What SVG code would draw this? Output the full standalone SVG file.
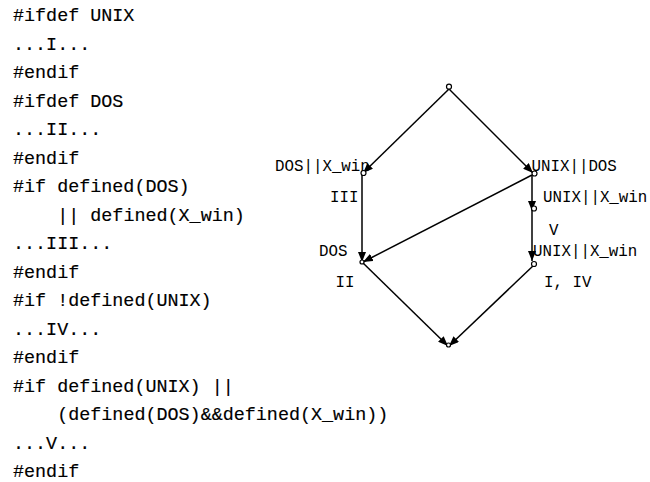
<svg xmlns="http://www.w3.org/2000/svg" width="650" height="482" viewBox="0 0 650 482">
<defs>
<marker id="ah" markerWidth="10" markerHeight="8" refX="10" refY="4" orient="auto" markerUnits="userSpaceOnUse">
<path d="M0,0 L10,4 L0,8 Z" fill="#000"/>
</marker>
<style>
.code{font-family:"Liberation Mono","DejaVu Sans Mono",monospace;font-size:18.4px;fill:#000;stroke:#000;stroke-width:0.15}
.lbl{font-family:"Liberation Mono","Courier New",monospace;font-size:15.8px;fill:#000}
.e{stroke:#000;stroke-width:1.5;fill:none;marker-end:url(#ah)}
.n{fill:#fff;stroke:#000;stroke-width:1.2}
</style>
</defs>
<rect width="650" height="482" fill="#fff"/>
<g id="code" class="code">
<text x="13" y="21">#ifdef UNIX</text>
<text x="13" y="49.5">...I...</text>
<text x="13" y="78">#endif</text>
<text x="13" y="106.5">#ifdef DOS</text>
<text x="13" y="135">...II...</text>
<text x="13" y="163.5">#endif</text>
<text x="13" y="192">#if defined(DOS)</text>
<text x="57.2" y="220.5">|| defined(X_win)</text>
<text x="13" y="249">...III...</text>
<text x="13" y="277.5">#endif</text>
<text x="13" y="306">#if !defined(UNIX)</text>
<text x="13" y="334.5">...IV...</text>
<text x="13" y="363">#endif</text>
<text x="13" y="391.5">#if defined(UNIX) ||</text>
<text x="57.2" y="420">(defined(DOS)&amp;&amp;defined(X_win))</text>
<text x="13" y="448.5">...V...</text>
<text x="13" y="477">#endif</text>
</g>
<g id="edges">
<line class="e" x1="449" y1="89" x2="363" y2="173"/>
<line class="e" x1="449" y1="89" x2="533" y2="173"/>
<line class="e" x1="362" y1="174" x2="362" y2="262"/>
<line class="e" x1="532" y1="175" x2="363" y2="262"/>
<line class="e" x1="532" y1="175" x2="532" y2="211"/>
<line class="e" x1="532" y1="211" x2="532" y2="261"/>
<line class="e" x1="362" y1="262" x2="448" y2="346"/>
<line class="e" x1="534" y1="265" x2="449" y2="346"/>
</g>
<g id="n-top"><circle class="n" cx="449" cy="86.7" r="2.5"/></g>
<g id="n-dosxwin"><circle class="n" cx="363.5" cy="173" r="2.5"/>
<text class="lbl" x="275" y="170.5">DOS||X_win</text>
<text class="lbl" x="330" y="202">III</text></g>
<g id="n-unixdos"><circle class="n" cx="534.5" cy="173.5" r="2.5"/>
<text class="lbl" x="531.5" y="170.5">UNIX||DOS</text></g>
<g id="n-unixxwin1"><circle class="n" cx="534" cy="208.5" r="2.5"/>
<text class="lbl" x="543" y="202">UNIX||X_win</text>
<text class="lbl" x="549" y="235">V</text></g>
<g id="n-dos"><circle class="n" cx="362" cy="262" r="2"/>
<text class="lbl" x="319" y="256">DOS</text>
<text class="lbl" x="335.5" y="287">II</text></g>
<g id="n-unixxwin2"><circle class="n" cx="534" cy="264" r="2.5"/>
<text class="lbl" x="533" y="256">UNIX||X_win</text>
<text class="lbl" x="544" y="287">I, IV</text></g>
<g id="n-bottom"><circle class="n" cx="448.5" cy="345" r="2"/></g>
</svg>
